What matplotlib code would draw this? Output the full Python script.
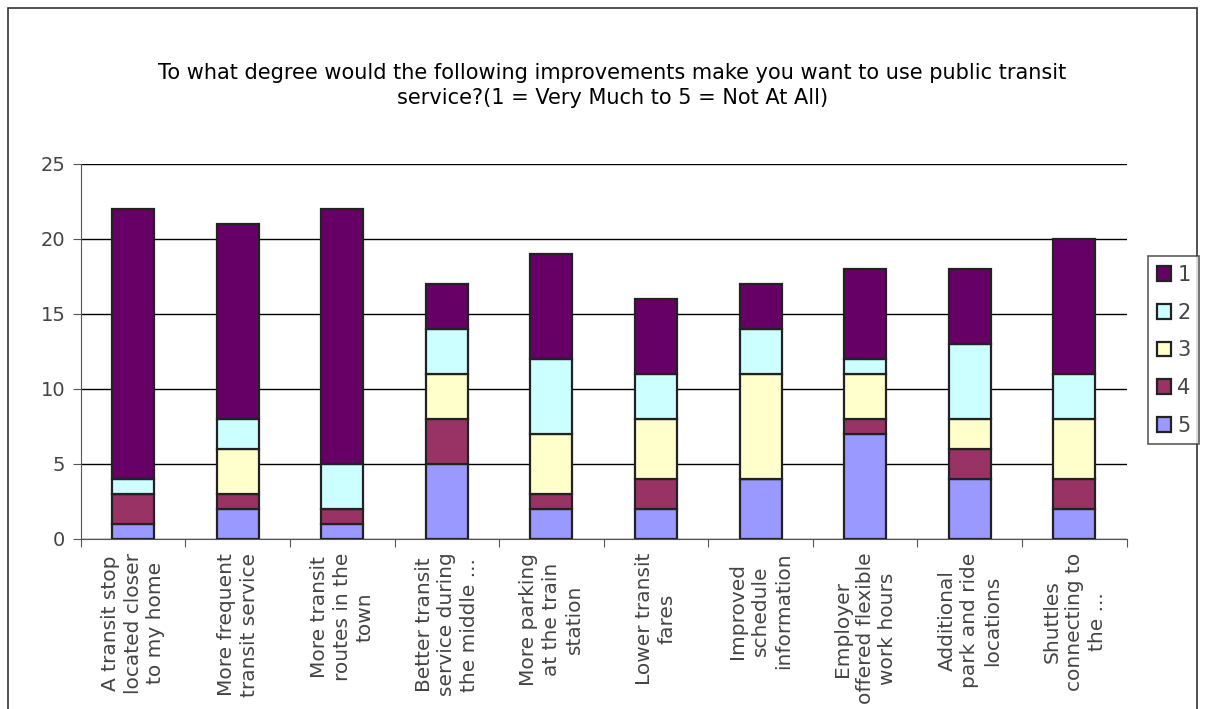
import matplotlib

matplotlib.use('Agg')
import matplotlib.pyplot as plt
import numpy as np
from matplotlib.patches import Rectangle

plt.rcParams['font.family'] = ['DejaVu Sans']

# 调查数据：每个改进措施在 1~5 各等级的人数
categories = [
    "A transit stop\nlocated closer\nto my home",
    "More frequent\ntransit service",
    "More transit\nroutes in the\ntown",
    "Better transit\nservice during\nthe middle ...",
    "More parking\nat the train\nstation",
    "Lower transit\nfares",
    "Improved\nschedule\ninformation",
    "Employer\noffered flexible\nwork hours",
    "Additional\npark and ride\nlocations",
    "Shuttles\nconnecting to\nthe ...",
]
level_5 = [1, 2, 1, 5, 2, 2, 4, 7, 4, 2]
level_4 = [2, 1, 1, 3, 1, 2, 0, 1, 2, 2]
level_3 = [0, 3, 0, 3, 4, 4, 7, 3, 2, 4]
level_2 = [1, 2, 3, 3, 5, 3, 3, 1, 5, 3]
level_1 = [18, 13, 17, 3, 7, 5, 3, 6, 5, 9]
y_ticks = [0, 5, 10, 15, 20, 25]
title = "To what degree would the following improvements make you want to use public transit\nservice?(1 = Very Much to 5 = Not At All)"

series = [("5", level_5, "#9999FF"), ("4", level_4, "#993366"),
          ("3", level_3, "#FFFFCC"), ("2", level_2, "#CCFFFF"),
          ("1", level_1, "#660066")]

fig = plt.figure(figsize=(12.05, 7.09), dpi=100)
ax = fig.add_axes([0.067, 0.240, 0.868, 0.529])

x = np.arange(len(categories))
bottom = np.zeros(len(categories))
handles = {}
for name, vals, color in series:
    bars = ax.bar(x, vals, 0.4, bottom=bottom, color=color,
                  edgecolor='#222222', linewidth=1.6, label=name, zorder=3)
    handles[name] = bars
    bottom += np.array(vals)

ax.set_xlim(-0.5, len(categories) - 0.5)
ax.set_ylim(0, 25)
ax.set_yticks(y_ticks)
ax.yaxis.grid(True, color='black', linewidth=1, zorder=0)
ax.set_axisbelow(True)
for s in ['top', 'right']:
    ax.spines[s].set_visible(False)
ax.spines['left'].set_color('#555555')
ax.spines['bottom'].set_color('#555555')
ax.tick_params(axis='y', labelsize=14, colors='#555555', length=6,
               labelcolor='#444444', pad=5)

# x 轴刻度放在类别之间，标签放在类别中心
ax.set_xticks(np.arange(-0.5, len(categories)), minor=False)
ax.set_xticklabels([])
ax.set_xticks(x, minor=True)
ax.set_xticklabels(categories, minor=True, rotation=90, fontsize=14.5,
                   color='#444444', va='top', ha='center', linespacing=1.25)
ax.tick_params(axis='x', which='major', length=6, colors='#555555')
ax.tick_params(axis='x', which='minor', length=0, pad=10)

fig.text(0.508, 0.879, title, ha='center', va='center', fontsize=15,
         linespacing=1.3)

order = ["1", "2", "3", "4", "5"]
leg = fig.legend([handles[n] for n in order], order,
                 loc='center', bbox_to_anchor=(0.974, 0.506),
                 fontsize=15, frameon=True, fancybox=False,
                 edgecolor='#333333', handlelength=0.7, handleheight=0.7,
                 handletextpad=0.3, labelspacing=0.85, borderpad=0.4,
                 borderaxespad=0)
leg.get_frame().set_linewidth(1.2)
for t in leg.get_texts():
    t.set_color('#444444')

# 外框
fig.patches.append(Rectangle((8 / 1205, -0.05), 1189 / 1205, 1.05 - 8 / 709,
                             transform=fig.transFigure, fill=False,
                             edgecolor='#333333', linewidth=1.2))

plt.savefig("out.png", dpi=100)
plt.close()
